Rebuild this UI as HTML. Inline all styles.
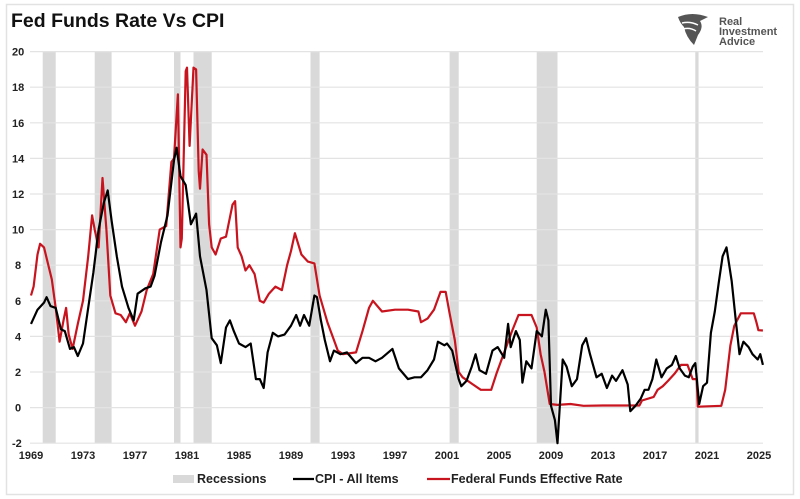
<!DOCTYPE html>
<html><head><meta charset="utf-8"><style>
body{margin:0;background:#fff;}
#c{position:relative;width:800px;height:499px;overflow:hidden;font-family:"Liberation Sans",Arial,sans-serif;}
</style></head><body><div id="c">
<svg id="s" width="800" height="499" xmlns="http://www.w3.org/2000/svg" font-family="Liberation Sans, Arial, sans-serif">
<rect x="6.5" y="4.5" width="787" height="490" fill="#fff" stroke="#e2e2e2" stroke-width="1.5"/>
<text x="11" y="27" font-size="19.5" font-weight="bold" fill="#111">Fed Funds Rate Vs CPI</text>
<g id="rec" fill="#d9d9d9"></g>
<g id="grid" stroke="#e3e3e3" stroke-width="1.2"></g>
<g id="ylab" font-size="11" font-weight="bold" fill="#222"></g>
<g id="xlab" font-size="11" font-weight="bold" fill="#222" text-anchor="middle"></g>
<polyline id="ff" fill="none" stroke="#c8141e" stroke-width="2.2" stroke-linejoin="round"/>
<polyline id="cpi" fill="none" stroke="#000" stroke-width="2.2" stroke-linejoin="round"/>
<rect x="173" y="475" width="21" height="8" fill="#d9d9d9"/>
<text x="197" y="483" font-size="12.5" font-weight="bold" fill="#222">Recessions</text>
<line x1="293" y1="479" x2="314" y2="479" stroke="#000" stroke-width="2.2"/>
<text x="315" y="483" font-size="12.5" font-weight="bold" fill="#222">CPI - All Items</text>
<line x1="427" y1="479" x2="450" y2="479" stroke="#c8141e" stroke-width="2.2"/>
<text x="451" y="483" font-size="12.5" font-weight="bold" fill="#222">Federal Funds Effective Rate</text>
<g transform="translate(678,13)">
<path d="M0,4 Q14,-2 30,4 L22,8 Q26,14 20,22 L16,32 Q8,24 6,14 Q2,10 0,4Z" fill="#555"/>
<path d="M4,10 Q12,8 20,12 M5,16 Q12,14 18,18" stroke="#fff" stroke-width="1.5" fill="none"/>
</g>
<text x="719" y="25" font-size="11" font-weight="bold" fill="#555">Real</text>
<text x="719" y="35" font-size="11" font-weight="bold" fill="#555">Investment</text>
<text x="719" y="45" font-size="11" font-weight="bold" fill="#555">Advice</text>
</svg>
<script>
var ns="http://www.w3.org/2000/svg";
function X(y){return 31+(y-1969)*13;}
function Y(v){return 407.6-17.8*v;}
function el(t,a,p,txt){var e=document.createElementNS(ns,t);for(var k in a)e.setAttribute(k,a[k]);if(txt!=null)e.textContent=txt;document.getElementById(p).appendChild(e);}
[[1969.9,1970.9],[1973.9,1975.2],[1980.0,1980.5],[1981.5,1982.9],[1990.5,1991.2],[2001.2,2001.9],[2007.9,2009.5],[2020.1,2020.35]].forEach(function(r){el("rect",{x:X(r[0]),y:51,width:X(r[1])-X(r[0]),height:392},"rec");});
for(var v=-2;v<=20;v+=2){el("line",{x1:30,x2:763,y1:Y(v),y2:Y(v)},"grid");el("text",{x:v<0?12:(v<10?15:12),y:Y(v)+4},"ylab",v);}
for(var y=1969;y<=2025;y+=4){el("text",{x:X(y),y:459},"xlab",y);}
var cpi=[1969.0,4.7,1969.5,5.5,1970.0,5.9,1970.2,6.2,1970.5,5.7,1970.9,5.6,1971.3,4.4,1971.6,4.3,1972.0,3.3,1972.3,3.4,1972.6,2.9,1973.0,3.6,1973.4,5.6,1973.8,7.6,1974.2,10.0,1974.6,11.5,1974.9,12.2,1975.2,10.5,1975.6,8.5,1976.0,6.8,1976.5,5.6,1976.9,4.9,1977.2,6.4,1977.8,6.7,1978.2,6.8,1978.5,7.4,1979.0,9.3,1979.5,10.8,1980.0,13.9,1980.2,14.6,1980.5,13.0,1980.9,12.5,1981.3,10.3,1981.7,10.9,1982.0,8.5,1982.5,6.6,1982.9,3.9,1983.3,3.5,1983.6,2.5,1984.0,4.5,1984.3,4.9,1984.6,4.3,1985.0,3.6,1985.5,3.4,1985.9,3.6,1986.3,1.6,1986.6,1.6,1986.9,1.1,1987.2,3.1,1987.6,4.2,1988.0,4.0,1988.5,4.1,1989.0,4.6,1989.4,5.2,1989.7,4.6,1990.0,5.2,1990.4,4.6,1990.8,6.3,1991.0,6.2,1991.3,4.9,1991.6,3.8,1992.0,2.6,1992.3,3.2,1992.8,3.0,1993.3,3.1,1994.0,2.5,1994.5,2.8,1995.0,2.8,1995.5,2.6,1996.0,2.8,1996.8,3.3,1997.3,2.2,1998.0,1.6,1998.5,1.7,1999.0,1.7,1999.5,2.1,2000.0,2.7,2000.3,3.7,2000.8,3.5,2001.0,3.6,2001.4,3.2,2001.9,1.6,2002.1,1.2,2002.5,1.5,2002.9,2.3,2003.2,3.0,2003.5,2.1,2004.0,1.9,2004.5,3.2,2004.9,3.4,2005.4,2.8,2005.7,4.7,2005.9,3.4,2006.3,4.3,2006.6,3.8,2006.8,1.4,2007.1,2.6,2007.5,2.2,2007.9,4.3,2008.3,4.0,2008.6,5.5,2008.8,4.9,2009.0,0.1,2009.3,-0.7,2009.5,-2.0,2009.9,2.7,2010.2,2.3,2010.6,1.2,2011.0,1.6,2011.4,3.5,2011.7,3.9,2012.0,3.0,2012.5,1.7,2012.9,1.9,2013.3,1.1,2013.7,1.8,2014.0,1.5,2014.5,2.1,2014.9,1.3,2015.1,-0.2,2015.5,0.1,2015.9,0.5,2016.2,1.0,2016.5,1.0,2016.8,1.6,2017.1,2.7,2017.5,1.7,2017.9,2.2,2018.3,2.4,2018.6,2.9,2018.9,2.2,2019.3,1.8,2019.6,1.7,2019.9,2.3,2020.1,2.5,2020.4,0.2,2020.7,1.2,2021.0,1.4,2021.3,4.2,2021.6,5.4,2021.9,7.0,2022.2,8.5,2022.5,9.0,2022.9,7.1,2023.2,5.0,2023.5,3.0,2023.8,3.7,2024.2,3.4,2024.5,3.0,2024.9,2.7,2025.1,3.0,2025.3,2.4];
var ff=[1969.0,6.3,1969.2,6.8,1969.5,8.6,1969.7,9.2,1970.0,9.0,1970.3,8.1,1970.6,7.2,1970.9,5.6,1971.2,3.7,1971.5,4.9,1971.7,5.6,1971.9,4.1,1972.2,3.3,1972.6,4.7,1973.0,6.0,1973.4,8.5,1973.7,10.8,1973.9,10.0,1974.2,9.0,1974.5,12.9,1974.8,10.0,1975.1,6.3,1975.5,5.3,1975.9,5.2,1976.3,4.8,1976.6,5.3,1977.0,4.6,1977.5,5.4,1977.9,6.6,1978.4,7.5,1978.9,10.0,1979.4,10.2,1979.8,13.8,1980.0,14.0,1980.3,17.6,1980.5,9.0,1980.6,9.5,1980.9,18.9,1981.0,19.1,1981.2,14.7,1981.5,19.1,1981.7,19.0,1981.9,13.3,1982.0,12.3,1982.2,14.5,1982.5,14.2,1982.7,10.3,1982.9,9.0,1983.2,8.6,1983.6,9.5,1984.0,9.6,1984.5,11.4,1984.7,11.6,1984.9,9.0,1985.2,8.5,1985.5,7.7,1985.8,8.0,1986.2,7.5,1986.6,6.0,1986.9,5.9,1987.3,6.4,1987.8,6.8,1988.3,6.6,1988.7,8.0,1989.0,8.8,1989.3,9.8,1989.8,8.6,1990.3,8.2,1990.8,8.1,1991.2,6.3,1991.8,4.8,1992.2,4.0,1992.6,3.2,1993.0,3.0,1994.0,3.1,1994.5,4.3,1995.0,5.6,1995.3,6.0,1996.0,5.4,1997.0,5.5,1998.0,5.5,1998.8,5.4,1999.0,4.8,1999.5,5.0,2000.0,5.5,2000.5,6.5,2000.9,6.5,2001.2,5.3,2001.6,3.8,2001.9,2.0,2002.2,1.7,2003.0,1.3,2003.6,1.0,2004.4,1.0,2004.8,1.9,2005.5,3.3,2006.0,4.3,2006.5,5.2,2007.5,5.2,2007.9,4.5,2008.2,3.0,2008.5,2.0,2008.9,0.2,2009.5,0.15,2010.5,0.2,2011.5,0.1,2013,0.12,2015.8,0.12,2016.0,0.4,2016.9,0.6,2017.2,1.0,2017.6,1.2,2018.0,1.5,2018.5,1.9,2019.0,2.4,2019.5,2.4,2019.9,1.6,2020.2,1.6,2020.3,0.05,2022.1,0.1,2022.4,1.0,2022.8,3.5,2023.1,4.6,2023.6,5.3,2024.6,5.3,2024.8,4.8,2024.95,4.35,2025.3,4.33];
function pts(a){var s=[];for(var i=0;i<a.length;i+=2)s.push(X(a[i]).toFixed(1)+","+Y(a[i+1]).toFixed(1));return s.join(" ");}
document.getElementById("cpi").setAttribute("points",pts(cpi));
document.getElementById("ff").setAttribute("points",pts(ff));
</script>
</div></body></html>
